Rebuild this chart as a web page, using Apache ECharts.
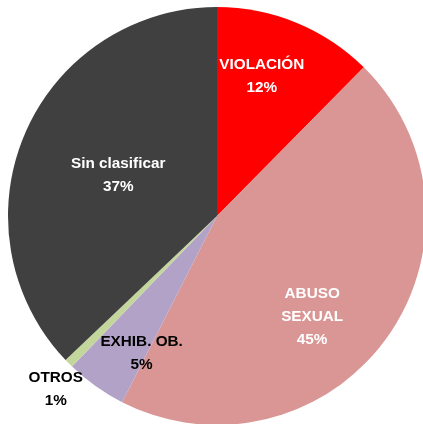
<!DOCTYPE html>
<html>
<head>
<meta charset="utf-8">
<style>
  html, body { margin: 0; padding: 0; background: #fff; }
  #chart { width: 423px; height: 424px; }
</style>
<script src="https://cdn.jsdelivr.net/npm/echarts@6/dist/echarts.min.js"></script>
</head>
<body>
<div id="chart"></div>
<script>
  // slices, clockwise from 12 o'clock
  var categories = ['VIOLACIÓN', 'ABUSO\nSEXUAL', 'EXHIB. OB.', 'OTROS', 'Sin clasificar']
  var values = [12.4, 45.1, 4.7, 0.7, 37.1]

  var colors = ['#ff0000', '#d99694', '#b3a2c7', '#c3d69b', '#404040']
  var labelColors = ['#fff', '#fff', '#000', '#000', '#fff']
  var labelOffsets = [[4, -40], [8, 38], [-13, 50], [-85, 97], [0, 2]]

  var chart = echarts.init(document.getElementById('chart'))
  chart.setOption({
    animation: false,
    series: [{
      type: 'pie',
      center: [217, 216],
      radius: [0, 209],
      startAngle: 90,
      clockwise: true,
      avoidLabelOverlap: false,
      itemStyle: { borderWidth: 0 },
      label: {
        show: true,
        position: 'inside',
        fontFamily: '"Liberation Sans", Arial, sans-serif',
        fontWeight: 'bold',
        fontSize: 15.3,
        lineHeight: 23,
        align: 'center',
        formatter: function (p) {
          return p.name + '\n' + Math.round(p.value) + '%'
        }
      },
      labelLine: { show: false },
      emphasis: { disabled: true },
      data: categories.map(function (name, i) {
        return {
          name: name,
          value: values[i],
          itemStyle: { color: colors[i] },
          label: { color: labelColors[i], offset: labelOffsets[i] }
        }
      })
    }]
  })
</script>
</body>
</html>
